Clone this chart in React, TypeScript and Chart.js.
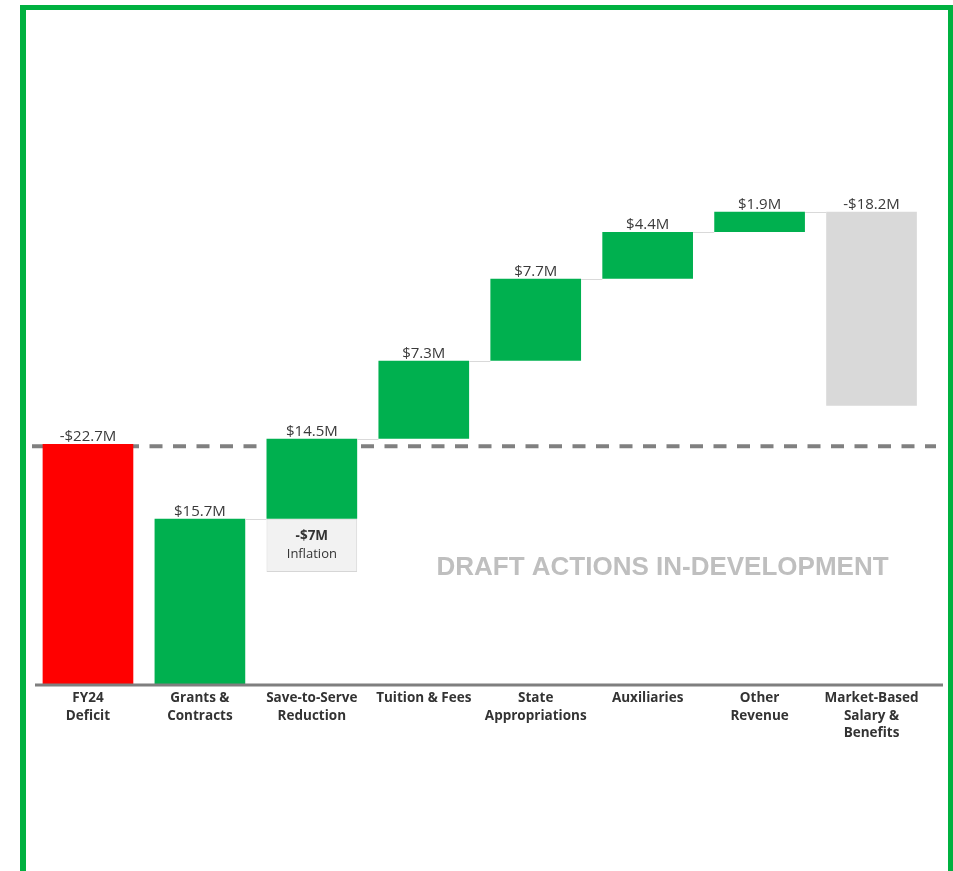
import React, { useEffect, useRef } from "react";
import { Chart, registerables } from "chart.js";

Chart.register(...registerables);

const categories: (string | string[])[] = [
  ["FY24", "Deficit"],
  ["Grants &", "Contracts"],
  ["Save-to-Serve", "Reduction"],
  "Tuition & Fees",
  ["State", "Appropriations"],
  "Auxiliaries",
  ["Other", "Revenue"],
  ["Market-Based", "Salary &", "Benefits"],
];
const changes = [-22.7, 15.7, 14.5, 7.3, 7.7, 4.4, 1.9, -18.2];
const valueLabels = ["-$22.7M", "$15.7M", "$14.5M", "$7.3M", "$7.7M", "$4.4M", "$1.9M", "-$18.2M"];
const barColors = ["#ff0000", "#00b04f", "#00b04f", "#00b04f", "#00b04f", "#00b04f", "#00b04f", "#d9d9d9"];
const inflationIndex = 2;
const inflationAmount = -7;
const inflationLabel = "-$7M";
const inflationText = "Inflation";
const inflationBoxDepth = 5.0; // as drawn in the picture
const referenceLine = 22.5;
const watermark = "DRAFT ACTIONS IN-DEVELOPMENT";
const yMax = 60;

function buildRanges() {
  const ranges: [number, number][] = [];
  let running = 0;
  changes.forEach((c, i) => {
    if (i === 0) {
      ranges.push([0, -c]);
      return;
    }
    const net = c + (i === inflationIndex ? inflationAmount : 0);
    if (net >= 0) {
      ranges.push([running, running + net]);
      running += net;
    } else {
      ranges.push([running + net, running]);
    }
  });
  return ranges;
}

export default function App() {
  const ref = useRef<HTMLCanvasElement | null>(null);
  useEffect(() => {
    if (!ref.current) return;
    const ranges = buildRanges();
    const inflationData = categories.map((_, i) =>
      i === inflationIndex ? [ranges[i][0] - inflationBoxDepth, ranges[i][0]] : null
    );
    const plugin = {
      id: "waterfallDeco",
      beforeDatasetsDraw(chart: any) {
        const ctx = chart.ctx;
        const y = chart.scales.y.getPixelForValue(referenceLine);
        ctx.save();
        ctx.strokeStyle = "#808080";
        ctx.lineWidth = 4;
        ctx.setLineDash([13, 10.5]);
        ctx.beginPath();
        ctx.moveTo(32, y);
        ctx.lineTo(936, y);
        ctx.stroke();
        ctx.restore();
      },
      afterDatasetsDraw(chart: any) {
        const ctx = chart.ctx;
        const yS = chart.scales.y;
        const meta = chart.getDatasetMeta(0);
        const area = chart.chartArea;
        ctx.save();
        // axis line
        ctx.strokeStyle = "#7f7f7f";
        ctx.lineWidth = 3;
        ctx.beginPath();
        ctx.moveTo(35, area.bottom - 1);
        ctx.lineTo(943, area.bottom - 1);
        ctx.stroke();
        // connectors
        ctx.strokeStyle = "#d9d9d9";
        ctx.lineWidth = 1;
        for (let i = 1; i < ranges.length - 1; i++) {
          const a = meta.data[i];
          const b = meta.data[i + 1];
          const y = Math.round(yS.getPixelForValue(ranges[i][1])) + 0.5;
          ctx.beginPath();
          ctx.moveTo(a.x + a.width / 2, y);
          ctx.lineTo(b.x - b.width / 2, y);
          ctx.stroke();
        }
        // value labels
        ctx.fillStyle = "#3a3a3a";
        ctx.font = "15px 'Open Sans'";
        ctx.textAlign = "center";
        ctx.textBaseline = "alphabetic";
        meta.data.forEach((bar: any, i: number) => {
          const top = yS.getPixelForValue(Math.max(ranges[i][0], ranges[i][1]));
          ctx.fillText(valueLabels[i], bar.x, top - 3);
        });
        // inflation box text
        const ib = meta.data[inflationIndex];
        const ibTop = yS.getPixelForValue(ranges[inflationIndex][0]);
        ctx.fillStyle = "#333333";
        ctx.font = "bold 13.5px 'Open Sans'";
        ctx.fillText(inflationLabel, ib.x, ibTop + 21);
        ctx.font = "13px 'Open Sans'";
        ctx.fillText(inflationText, ib.x, ibTop + 39);
        // watermark
        ctx.fillStyle = "#bfbfbf";
        ctx.font = "bold 26px 'Liberation Sans'";
        ctx.fillText(watermark, 662.5, 575);
        ctx.restore();
      },
    };
    const chart = new Chart(ref.current, {
      type: "bar",
      data: {
        labels: categories,
        datasets: [
          {
            data: ranges as any,
            backgroundColor: barColors,
            borderWidth: 0,
            barPercentage: 0.81,
            categoryPercentage: 1,
            grouped: false,
            order: 1,
          },
          {
            data: inflationData as any,
            backgroundColor: "#f2f2f2",
            borderColor: "#d6d6d6",
            borderWidth: 1,
            borderSkipped: false,
            barPercentage: 0.81,
            categoryPercentage: 1,
            grouped: false,
            order: 2,
          },
        ],
      },
      options: {
        animation: false,
        responsive: false,
        devicePixelRatio: 1,
        layout: { padding: { left: 32, right: 25.5, top: 46.4, bottom: 0 } },
        plugins: { legend: { display: false }, tooltip: { enabled: false } },
        scales: {
          x: {
            grid: { display: false, drawTicks: false },
            border: { display: false },
            ticks: {
              autoSkip: false,
              maxRotation: 0,
              padding: 4,
              color: "#333333",
              font: { family: "'Open Sans'", size: 13.5, weight: "bold", lineHeight: 1.27 },
            },
            afterFit: (scale: any) => {
              scale.height = 185;
            },
          },
          y: { display: false, min: 0, max: yMax },
        },
      },
      plugins: [plugin],
    });
    return () => chart.destroy();
  }, []);
  return (
    <div style={{ position: "fixed", left: 0, top: 0, width: 953, height: 871, overflow: "hidden", background: "#fff" }}>
      <canvas ref={ref} width={953} height={871} style={{ position: "absolute", left: 0, top: 0 }} />
      <div
        style={{
          position: "absolute",
          left: 20,
          top: 5,
          width: 933,
          height: 900,
          boxSizing: "border-box",
          borderTop: "5px solid #00b140",
          borderLeft: "6px solid #00b140",
          borderRight: "5px solid #00b140",
          pointerEvents: "none",
        }}
      />
    </div>
  );
}
